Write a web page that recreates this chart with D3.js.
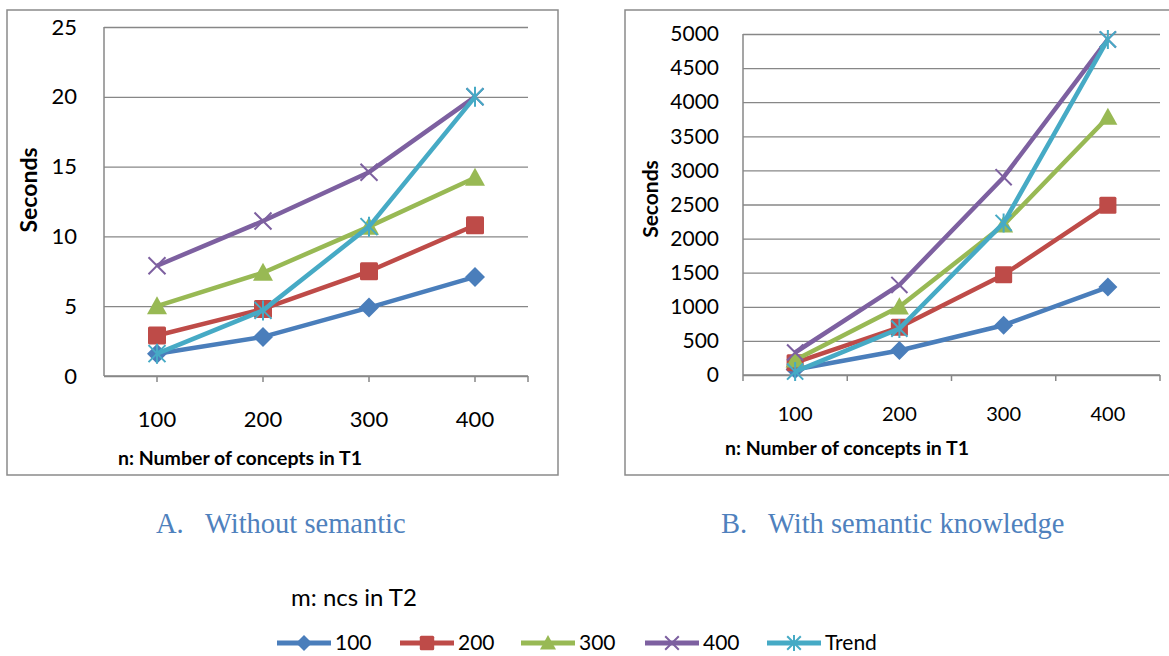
<!DOCTYPE html>
<html>
<head>
<meta charset="utf-8">
<script src="https://cdn.jsdelivr.net/npm/d3@7"></script>
<style>
  body { margin: 0; background: #fff; }
  svg { display: block; }
  text { font-family: Lato, "Noto Sans", sans-serif; fill: #000; }
</style>
</head>
<body>
<svg width="1169" height="656"></svg>
<script>
// categories on the x axis (n)
var categories = [100, 200, 300, 400];
var seriesNames = ["100", "200", "300", "400", "Trend"];
var seriesColors = ["#4a7ebb", "#be4b48", "#98b954", "#7d60a0", "#46aac5"];
var seriesMarkers = ["diamond", "square", "triangle", "x", "star"];

// A. without semantic (seconds)
var timeA100 = [1.6, 2.8, 4.9, 7.1];
var timeA200 = [2.9, 4.8, 7.5, 10.8];
var timeA300 = [5.0, 7.4, 10.7, 14.2];
var timeA400 = [7.9, 11.1, 14.6, 20.0];
var timeATrend = [1.6, 4.7, 10.7, 20.0];

// B. with semantic knowledge (seconds)
var timeB100 = [80, 360, 730, 1290];
var timeB200 = [180, 700, 1470, 2490];
var timeB300 = [220, 1000, 2200, 3780];
var timeB400 = [330, 1320, 2900, 4920];
var timeBTrend = [50, 680, 2230, 4920];

var yTicksA = [0, 5, 10, 15, 20, 25];
var yTicksB = [0, 500, 1000, 1500, 2000, 2500, 3000, 3500, 4000, 4500, 5000];

var svg = d3.select("svg");
var gridColor = "#878787";

function drawPanel(p) {
  var g = svg.append("g");

  // outer frame
  g.append("rect")
    .attr("x", p.frame[0]).attr("y", p.frame[1])
    .attr("width", p.frame[2]).attr("height", p.frame[3])
    .attr("fill", "none").attr("stroke", "#8a8a8a").attr("stroke-width", 1.5);

  var x = d3.scaleBand().domain(categories).range([p.left, p.right]).padding(0);
  var y = d3.scaleLinear().domain([0, p.ticks[p.ticks.length - 1]]).range([p.bottom, p.top]);
  var cx = function(c) { return x(c) + x.bandwidth() / 2; };

  // gridlines + y labels
  var yAxis = g.append("g")
    .attr("transform", "translate(" + p.left + ",0)")
    .call(d3.axisLeft(y).tickValues(p.ticks).tickFormat(d3.format("d"))
      .tickSize(-(p.right - p.left)).tickPadding(p.yPad));
  yAxis.select(".domain").remove();
  yAxis.selectAll(".tick line").attr("stroke", gridColor).attr("stroke-width", 1.3);
  yAxis.selectAll(".tick text")
    .style("font-family", "Lato, sans-serif").style("font-size", p.yFont + "px").attr("fill", "#000");

  // y axis line
  g.append("line")
    .attr("x1", p.left).attr("x2", p.left).attr("y1", p.top).attr("y2", p.bottom)
    .attr("stroke", gridColor).attr("stroke-width", 1.5);

  // x axis labels
  var xAxis = g.append("g")
    .attr("transform", "translate(0," + p.bottom + ")")
    .call(d3.axisBottom(x).tickSize(0));
  xAxis.select(".domain").remove();
  xAxis.selectAll(".tick text")
    .attr("y", p.xLabelOffset).attr("dy", "0.35em")
    .style("font-family", "Lato, sans-serif").style("font-size", p.xFont + "px").attr("fill", "#000");

  // x axis line with tick marks
  g.append("line")
    .attr("x1", p.left).attr("x2", p.right).attr("y1", p.bottom).attr("y2", p.bottom)
    .attr("stroke", gridColor).attr("stroke-width", 1.5);
  var tickPos = p.tickAtCenter
    ? categories.map(cx).concat([p.right])
    : categories.map(function(c) { return x(c); }).concat([p.right]);
  g.selectAll(".xtick").data(tickPos).enter().append("line")
    .attr("x1", function(d) { return d; }).attr("x2", function(d) { return d; })
    .attr("y1", p.bottom).attr("y2", p.bottom + 6)
    .attr("stroke", gridColor).attr("stroke-width", 1.5);

  // axis titles
  g.append("text")
    .attr("transform", "translate(" + p.yTitle[0] + "," + p.yTitle[1] + ") rotate(-90)")
    .attr("text-anchor", "middle").attr("dy", "0.35em")
    .style("font-weight", "bold").style("font-size", p.yTitleFont + "px")
    .text("Seconds");
  g.append("text")
    .attr("x", p.xTitle[0]).attr("y", p.xTitle[1]).attr("dy", "0.35em")
    .style("font-weight", "bold").style("font-size", "19.5px")
    .text("n: Number of concepts in T1");

  // series
  var line = d3.line().x(function(d, i) { return cx(categories[i]); }).y(function(d) { return y(d); });
  p.series.forEach(function(vals, si) {
    var col = seriesColors[si];
    g.append("path").datum(vals)
      .attr("d", line).attr("fill", "none").attr("stroke", col)
      .attr("stroke-width", 4.5).attr("stroke-linejoin", "round");
    vals.forEach(function(v, i) {
      drawMarker(g, seriesMarkers[si], cx(categories[i]), y(v), col, p.markerSize);
    });
  });

  // caption
  var cap = svg.append("text").attr("y", 533)
    .style("font-family", "'Liberation Serif', 'Times New Roman', serif")
    .style("font-size", "28.5px");
  cap.append("tspan").attr("x", p.caption[0]).style("fill", "#4f81bd").text(p.caption[2]);
  cap.append("tspan").attr("x", p.caption[1]).style("fill", "#4f81bd").text(p.caption[3]);
}

function drawMarker(g, kind, x, y, col, s) {
  var h = s / 2;
  if (kind === "diamond") {
    g.append("path").attr("d", "M" + x + "," + (y - h) + "L" + (x + h) + "," + y + "L" + x + "," + (y + h) + "L" + (x - h) + "," + y + "Z")
      .attr("fill", col);
  } else if (kind === "square") {
    var q = h * 0.9;
    g.append("rect").attr("x", x - q).attr("y", y - q).attr("width", 2 * q).attr("height", 2 * q)
      .attr("rx", 1.5).attr("fill", col);
  } else if (kind === "triangle") {
    g.append("path").attr("d", "M" + x + "," + (y - h) + "L" + (x + h) + "," + (y + h * 0.8) + "L" + (x - h) + "," + (y + h * 0.8) + "Z")
      .attr("fill", col);
  } else if (kind === "x") {
    var k = h * 0.85;
    g.append("path").attr("d", "M" + (x - k) + "," + (y - k) + "L" + (x + k) + "," + (y + k) + "M" + (x + k) + "," + (y - k) + "L" + (x - k) + "," + (y + k))
      .attr("stroke", col).attr("stroke-width", 2).attr("fill", "none");
  } else {
    var k2 = h * 0.85;
    g.append("path").attr("d", "M" + (x - k2) + "," + (y - k2) + "L" + (x + k2) + "," + (y + k2) + "M" + (x + k2) + "," + (y - k2) + "L" + (x - k2) + "," + (y + k2) + "M" + x + "," + (y - h) + "L" + x + "," + (y + h))
      .attr("stroke", col).attr("stroke-width", 2).attr("fill", "none");
  }
}

drawPanel({
  frame: [7, 10, 551, 465],
  left: 104, right: 528, top: 27, bottom: 376,
  ticks: yTicksA, yPad: 27, yFont: 22, xFont: 22, xLabelOffset: 43,
  tickAtCenter: true,
  yTitle: [29, 190], yTitleFont: 23, xTitle: [118, 458],
  series: [timeA100, timeA200, timeA300, timeA400, timeATrend],
  markerSize: 20,
  caption: [156, 205, "A.", "Without semantic"]
});

drawPanel({
  frame: [625, 10, 560, 465],
  left: 743, right: 1160, top: 34, bottom: 375,
  ticks: yTicksB, yPad: 24, yFont: 21, xFont: 20, xLabelOffset: 39,
  tickAtCenter: false,
  yTitle: [651, 199], yTitleFont: 21, xTitle: [725, 448],
  series: [timeB100, timeB200, timeB300, timeB400, timeBTrend],
  markerSize: 19,
  caption: [721, 768, "B.", "With semantic knowledge"]
});

// legend
svg.append("text").attr("x", 291).attr("y", 598).attr("dy", "0.35em")
  .style("font-size", "24px").text("m: ncs in T2");

var legendX = [277, 400, 521, 645, 767];
var lg = svg.selectAll(".legend").data(seriesNames).enter().append("g")
  .attr("transform", function(d, i) { return "translate(" + legendX[i] + ",643)"; });
lg.append("line").attr("x1", 0).attr("x2", 54).attr("y1", 0).attr("y2", 0)
  .attr("stroke", function(d, i) { return seriesColors[i]; }).attr("stroke-width", 5);
lg.each(function(d, i) { drawMarker(d3.select(this), seriesMarkers[i], 27, 0, seriesColors[i], 16); });
lg.append("text").attr("x", 58).attr("dy", "0.35em").style("font-size", "21px")
  .text(function(d) { return d; });
</script>
</body>
</html>
